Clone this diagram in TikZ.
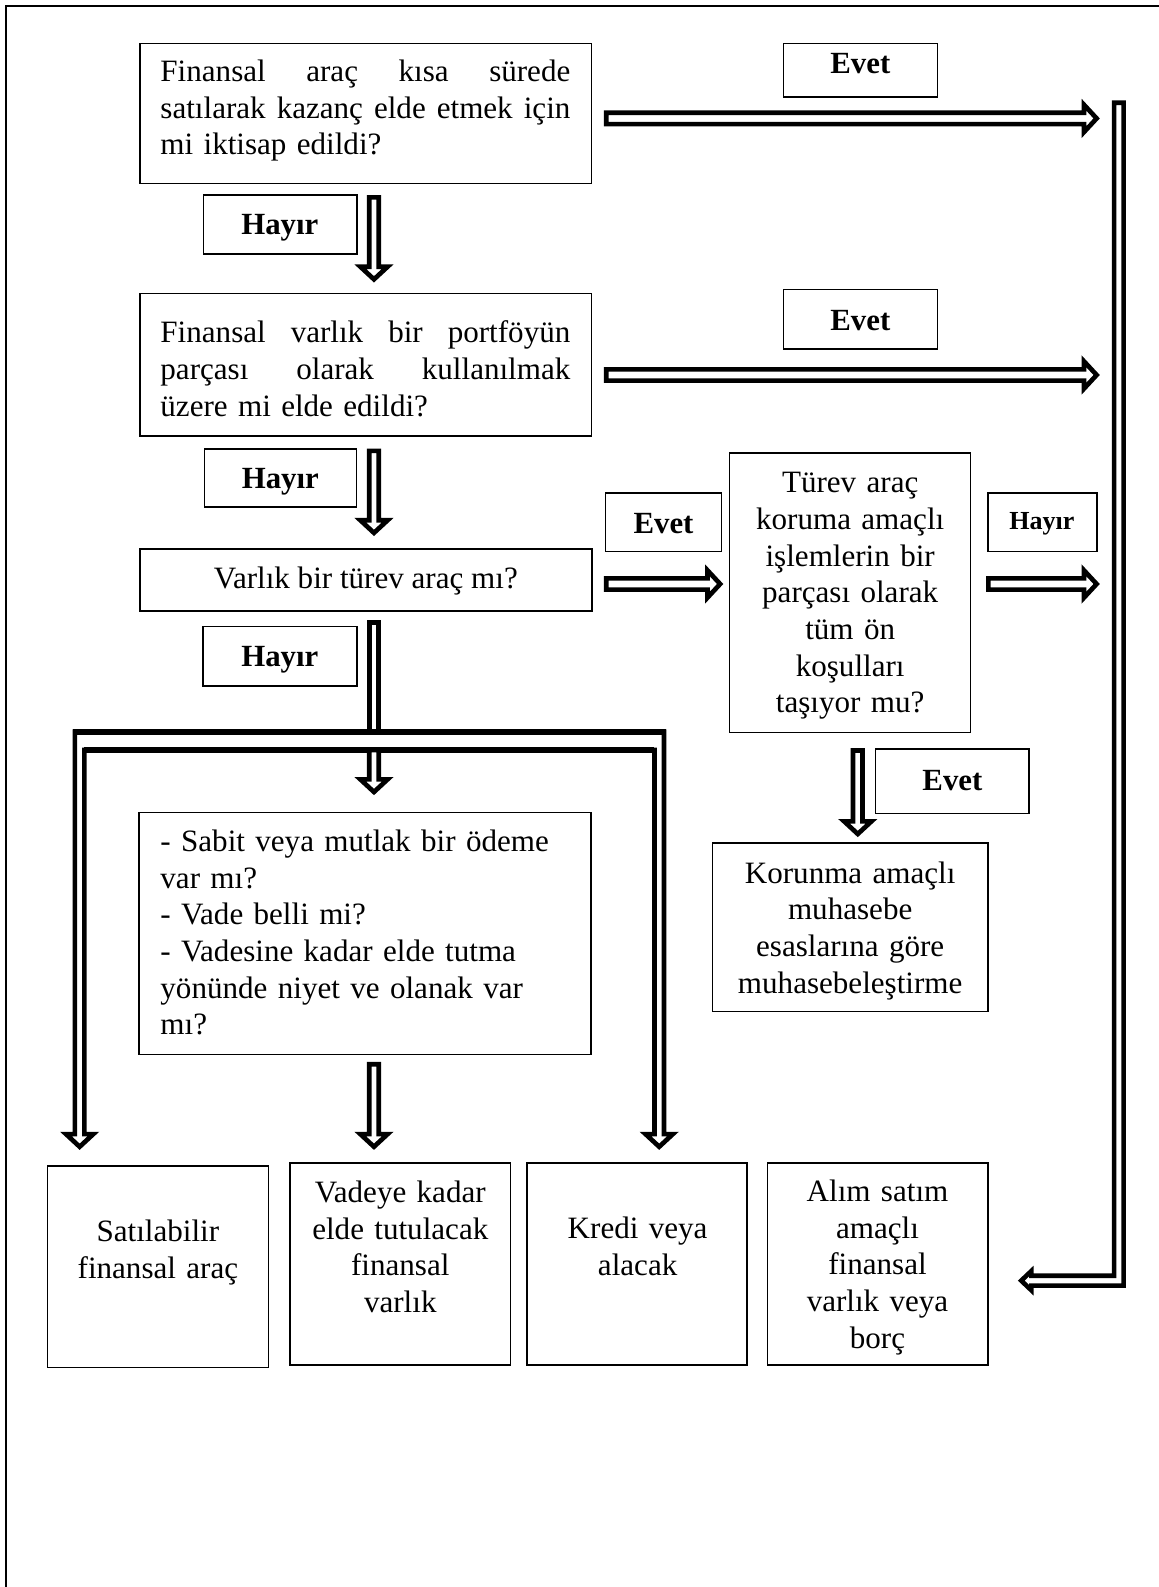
\documentclass[tikz,border=0pt]{standalone}
\usepackage{fontspec}
\setmainfont{Liberation Serif}
\usetikzlibrary{calc,fit}
\newcommand\jl[1]{\leavevmode\hbox to 154.3pt{#1}}
\def\swv{1.79pt}
\def\swh{2.13pt}
\def\ahw{5.14pt}
\def\ahl{4.76pt}
\newcommand\vArrow[2]{\path[arr] let \p1=(#1), \p2=(#2) in (\x1-\swv,\y1) -- (\x1+\swv,\y1) -- (\x1+\swv,\y2+\ahl) -- (\x1+\ahw,\y2+\ahl) -- (\x1,\y2) -- (\x1-\ahw,\y2+\ahl) -- (\x1-\swv,\y2+\ahl) -- cycle;}
\newcommand\hArrow[2]{\path[arr] let \p1=(#1), \p2=(#2) in (\x1,\y1+\swh) -- (\x2-\ahl,\y1+\swh) -- (\x2-\ahl,\y1+\ahw) -- (\x2,\y1) -- (\x2-\ahl,\y1-\ahw) -- (\x2-\ahl,\y1-\swh) -- (\x1,\y1-\swh) -- cycle;}
\begin{document}
\begin{tikzpicture}[x=0.381pt, y=-0.381pt,
  box/.style={draw=black, line width=0.55pt, inner sep=0pt},
  txt/.style={inner sep=0pt, anchor=base, font=\fontsize{11.7}{13.8}\selectfont},
  lbl/.style={inner sep=0pt, anchor=base, font=\fontsize{11.6}{13.8}\selectfont\bfseries},
  slbl/.style={inner sep=0pt, anchor=base, font=\fontsize{9.8}{12}\selectfont\bfseries},
  arr/.style={draw=black, fill=white, line width=1.75pt, line join=miter, miter limit=10},
  barline/.style={draw=black, line width=2.3pt},
  frame/.style={draw=black, line width=0.8pt}]
\useasboundingbox (0,0) rectangle (1145,1568);
\path[frame] (1145,5.5) -- (5.5,5.5) -- (5.5,1568);

% main boxes
\node[box, fit={(138.3,42.8) (584.6,181.5)}] (b1) {};
\node[box, fit={(138.3,290) (584.6,430.7)}] (b2) {};
\node[box, fit={(138.3,542.6) (584.7,603.6)}] (b3) {};
\node[box, fit={(137.3,803) (584,1042)}] (b4) {};
\node[box, fit={(720.8,447.7) (959,723.5)}] (bT) {};
\node[box, fit={(703.7,833) (976,999.5)}] (bK) {};
\node[box, fit={(46.7,1152) (265.4,1351)}] (b5) {};
\node[box, fit={(286.6,1149) (504.5,1348.6)}] (b6) {};
\node[box, fit={(520.6,1149) (738,1348.6)}] (b7) {};
\node[box, fit={(758.4,1149) (976,1348.6)}] (b8) {};

% label boxes
\node[box, fit={(774,43) (926,96)}] (e1) {};
\node[box, fit={(774,286) (926,345)}] (e2) {};
\node[box, fit={(201,192.6) (352.5,251)}] (h1) {};
\node[box, fit={(202,443.6) (352,501)}] (h2) {};
\node[box, fit={(200.6,619) (352.7,677.7)}] (h3) {};
\node[box, fit={(598.5,487) (712.7,545)}] (e3) {};
\node[box, fit={(976,487) (1083.8,545)}] (h4) {};
\node[box, fit={(865,740) (1016.6,803.5)}] (e4) {};

% texts
\node[txt, anchor=base west, text width=154.3pt, align=left] (t1) at (158,80.7)
  {\jl{Finansal\hfill araç\hfill kısa\hfill sürede}\\\jl{satılarak\hfill kazanç\hfill elde\hfill etmek\hfill için}\\mi iktisap edildi?};
\node[txt, anchor=base west, text width=154.3pt, align=left] (t2) at (158,338.7)
  {\jl{Finansal\hfill varlık\hfill bir\hfill portföyün}\\\jl{parçası\hfill olarak\hfill kullanılmak}\\üzere mi elde edildi?};
\node[txt] (t3) at (361.5,581) {Varlık bir türev araç mı?};
\node[txt, anchor=base west, text width=160pt, align=left] (t4) at (158,841.4)
  {- Sabit veya mutlak bir ödeme\\var mı?\\- Vade belli mi?\\- Vadesine kadar elde tutma\\yönünde niyet ve olanak var\\mı?};
\node[txt, text width=88pt, align=center] (tT) at (840,487)
  {Türev araç\\koruma amaçlı\\işlemlerin bir\\parçası olarak\\tüm ön\\koşulları\\taşıyor mu?};
\node[txt, text width=100pt, align=center] (tK) at (840,872.5)
  {Korunma amaçlı\\muhasebe\\esaslarına göre\\muhasebeleştirme};
\node[txt, text width=80pt, align=center] (t5) at (156,1226.7) {Satılabilir\\finansal araç};
\node[txt, text width=80pt, align=center] (t6) at (395.5,1188) {Vadeye kadar\\elde tutulacak\\finansal\\varlık};
\node[txt, text width=80pt, align=center] (t7) at (630,1224) {Kredi veya\\alacak};
\node[txt, text width=80pt, align=center] (t8) at (867,1187) {Alım satım\\amaçlı\\finansal\\varlık veya\\borç};

\node[lbl] (le1) at (850,73) {Evet};
\node[lbl] (le2) at (850,326.5) {Evet};
\node[lbl] (lh1) at (276.5,232) {Hayır};
\node[lbl] (lh2) at (277,483) {Hayır};
\node[lbl] (lh3) at (276.5,659) {Hayır};
\node[lbl] (le3) at (655.6,527.6) {Evet};
\node[slbl] (lh4) at (1029.5,523.6) {Hayır};
\node[lbl] (le4) at (941,781.5) {Evet};

% arrow coordinates
\coordinate (a1s) at (599,117);    \coordinate (a1t) at (1083.5,117);
\coordinate (a2s) at (599,370.5);  \coordinate (a2t) at (1083.5,370.5);
\coordinate (a3s) at (599,577);    \coordinate (a3t) at (711.5,577);
\coordinate (a4s) at (976.5,577);  \coordinate (a4t) at (1083.5,577);
\coordinate (v1s) at (369.5,195);  \coordinate (v1t) at (369.5,276);
\coordinate (v2s) at (369.5,445.5);\coordinate (v2t) at (369.5,526.5);
\coordinate (v3s) at (369.5,741);  \coordinate (v3t) at (369.5,782.5);
\coordinate (v4s) at (369.5,1051.5);\coordinate (v4t) at (369.5,1133);
\coordinate (v5s) at (847.5,741.5);\coordinate (v5t) at (847.5,824);

\hArrow{a1s}{a1t}
\hArrow{a2s}{a2t}
\hArrow{a3s}{a3t}
\hArrow{a4s}{a4t}
\vArrow{v1s}{v1t}
\vArrow{v2s}{v2t}
\vArrow{v4s}{v4t}
\vArrow{v5s}{v5t}

% shaft from box 3 to the bar
\path[arr] (364.8,615) -- (374.2,615) -- (374.2,723) -- (364.8,723) -- cycle;
% the bar with its two side branches
\path[arr] (74,1120.5) -- (74,723) -- (656,723) -- (656,1120.5) -- (664.8,1120.5) -- (651.3,1133)
  -- (637.8,1120.5) -- (646.6,1120.5) -- (646.6,741) -- (83.4,741) -- (83.4,1120.5)
  -- (92.2,1120.5) -- (78.7,1133) -- (65.2,1120.5) -- cycle;
\path[barline] (72,723) -- (658,723);
\path[barline] (83.4,741) -- (646.6,741);
\vArrow{v3s}{v3t}

% right-hand collector pipe
\path[arr] (1100.8,101.5) -- (1110.2,101.5) -- (1110.2,1270.2) -- (1019,1270.2) -- (1019,1274.8)
  -- (1009,1265.3) -- (1019,1255.8) -- (1019,1260.5) -- (1100.8,1260.5) -- cycle;
\end{tikzpicture}
\end{document}
